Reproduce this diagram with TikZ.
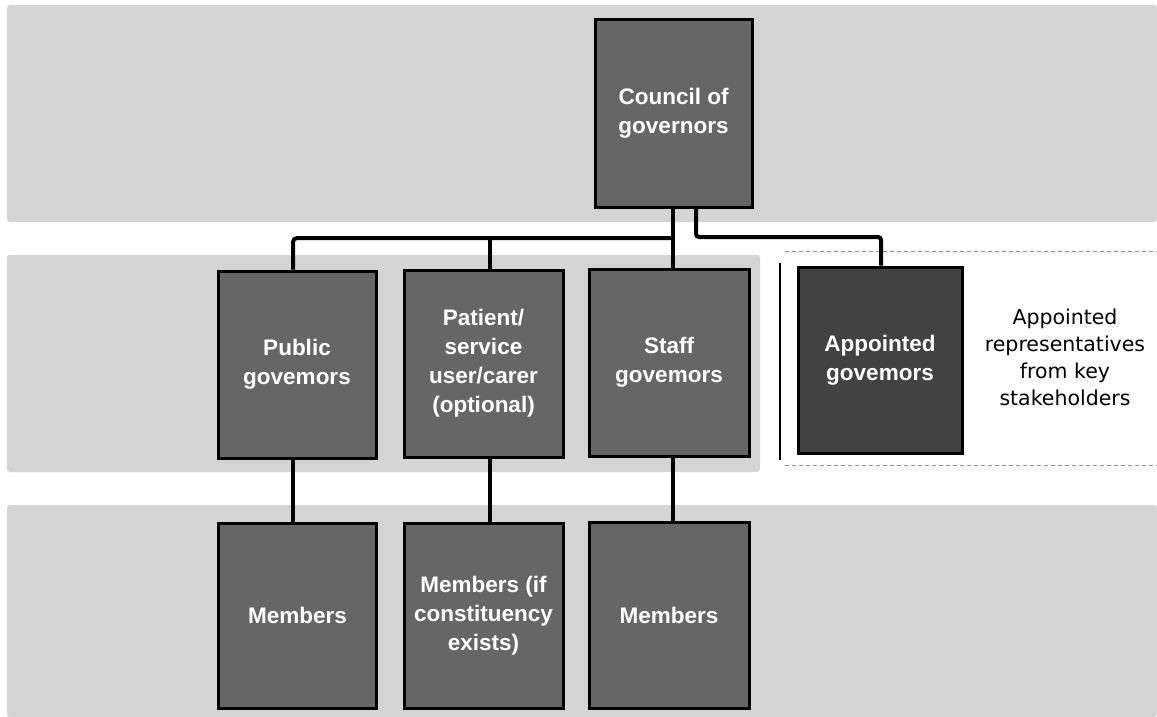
\documentclass[tikz,border=0pt]{standalone}
\usepackage{fontspec}
\setmainfont{Liberation Sans}
\newfontfamily\sidefont{DejaVu Sans}
\begin{document}
\begin{tikzpicture}[x=1pt,y=-1pt,
  band/.style={fill=black!17, draw=none, rounded corners=3pt},
  govbox/.style={draw=black, line width=3pt, fill=black!60, text=white,
    font=\bfseries\fontsize{22.5}{29}\selectfont, align=center, inner sep=0pt},
  darkbox/.style={govbox, fill=black!74},
  conn/.style={draw=black, line width=4pt},
  sidetext/.style={font=\sidefont\fontsize{20.5}{27}\selectfont, align=center, text=black, inner sep=0pt},
  panelline/.style={draw=black, line width=1.8pt},
  faint/.style={draw=black!45, line width=0.8pt, dash pattern=on 4pt off 3pt}
]
% canvas
\fill[white] (0,0) rectangle (1157,717);
\useasboundingbox (0,0) rectangle (1157,717);
% background bands
\path[band] (7,5) rectangle (1157,222);
\path[band] (7,255) rectangle (760,472);
\path[band] (7,505) rectangle (1157,717);
% white panel for appointed governors
\draw[panelline] (780,263) -- (780,460);
\draw[faint] (785,251) -- (1157,251);
\draw[faint] (785,465) -- (1157,465);

% boxes
\node[govbox, minimum width=157pt, minimum height=187pt] (council) at (673.5,113.5) {Council of\\governors};
\node[govbox, minimum width=158pt, minimum height=187pt] (public) at (297,364.5) {Public\\govemors};
\node[govbox, minimum width=159pt, minimum height=187pt] (patient) at (483.5,363.5) {Patient/\\service\\user/carer\\(optional)};
\node[govbox, minimum width=160pt, minimum height=187pt] (staff) at (669,362.5) {Staff\\govemors};
\node[darkbox, minimum width=164pt, minimum height=186pt] (appointed) at (880,360) {Appointed\\govemors};
\node[govbox, minimum width=158pt, minimum height=185pt] (mem1) at (297.5,615.5) {Members};
\node[govbox, minimum width=159pt, minimum height=185pt] (mem2) at (483.5,615.5) {Members (if\\constituency\\exists)};
\node[govbox, minimum width=160pt, minimum height=186pt] (mem3) at (669,615) {Members};
\node[sidetext] (note) at (1065,357) {Appointed\\representatives\\from key\\stakeholders};

% connectors
\coordinate (d1) at (293,238);
\coordinate (d2) at (490,238);
\coordinate (d3) at (673,238);
\coordinate (d4) at (696,237);
\coordinate (d5) at (881,237);
\begin{scope}[on background layer/.style={}]
\draw[conn, rounded corners=4pt] (public.north -| d1) -- (d1) -- (d3);
\draw[conn] (council.south -| d3) -- (staff.north -| d3);
\draw[conn] (d2) -- (patient.north -| d2);
\draw[conn, rounded corners=3pt] (council.south -| d4) |- (d5) -- (appointed.north -| d5);
\draw[conn] (public.south -| d1) -- (mem1.north -| d1);
\draw[conn] (patient.south -| d2) -- (mem2.north -| d2);
\draw[conn] (staff.south -| d3) -- (mem3.north -| d3);
\end{scope}
\end{tikzpicture}
\end{document}
